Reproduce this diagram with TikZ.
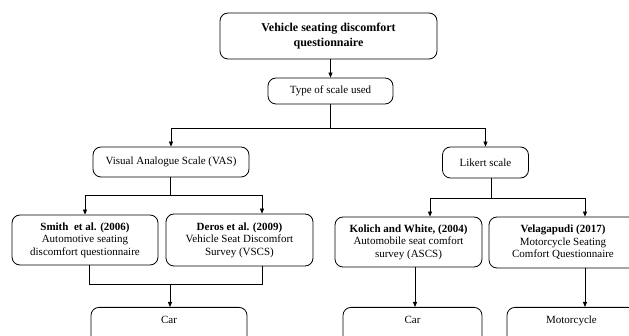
\documentclass[tikz,border=0pt]{standalone}
\usepackage{fontspec}
\setmainfont{Liberation Serif}
\usetikzlibrary{arrows.meta,calc}
\begin{document}
\begin{tikzpicture}[x=1pt,y=-1pt,
  box/.style={draw, rounded corners=8pt, line width=0.8pt, align=center,
    font=\fontsize{11}{12.5}\selectfont, inner sep=0pt},
  botbox/.style={box, anchor=north, text height=9pt, text depth=40pt, inner ysep=7pt},
  conn/.style={line width=0.8pt},
  arr/.style={conn, -{Triangle[length=5pt,width=4pt]}}]
\useasboundingbox (0,0) rectangle (629,336);
\clip (0,0) rectangle (629,336);
% nodes
\node[box, minimum width=217pt, minimum height=46pt,
  font=\bfseries\fontsize{12}{15}\selectfont] (top) at (328.5,36)
  {Vehicle seating discomfort\\questionnaire};
\node[box, minimum width=125pt, minimum height=26pt] (type) at (330.5,91) {Type of scale used};
\node[box, minimum width=156pt, minimum height=30pt] (vas) at (171,162) {Visual Analogue Scale (VAS)};
\node[box, minimum width=86pt, minimum height=31pt] (likert) at (485.5,162.5) {Likert scale};
\node[box, minimum width=146pt, minimum height=50pt] (smith) at (85,240)
  {\textbf{Smith\ \ et al. (2006)}\\Automotive seating\\discomfort questionnaire};
\node[box, minimum width=147pt, minimum height=52pt] (deros) at (239.5,240)
  {\textbf{Deros et al. (2009)}\\Vehicle Seat Discomfort\\Survey (VSCS)};
\node[box, minimum width=147pt, minimum height=50pt] (kolich) at (408.5,242)
  {\textbf{Kolich and White, (2004)}\\Automobile seat comfort\\survey (ASCS)};
\node[box, minimum width=148pt, minimum height=51pt] (vela) at (563,242.5)
  {\textbf{Velagapudi (2017)}\\Motorcycle Seating\\Comfort Questionnaire};
\node[botbox, minimum width=156pt] (car1) at (169,307) {Car};
\node[botbox, minimum width=139pt] (car2) at (412.5,307) {Car};
\node[botbox, minimum width=129pt] (moto) at (571.5,307) {Motorcycle};
% helper coordinates
\coordinate (s1) at (330.5,128);
\coordinate (s2) at (170,195);
\coordinate (dA) at ($(deros.north)+(22.5,0)$);
\coordinate (sB) at ($(smith.south)+(4.5,0)$);
\coordinate (dB) at ($(deros.south)+(22.5,0)$);
\coordinate (j1) at (170,284);
\coordinate (lB) at ($(likert.south)+(5.5,0)$);
\coordinate (s3) at (491,198);
\coordinate (kA) at ($(kolich.north)+(21.5,0)$);
\coordinate (vA) at ($(vela.north)+(22,0)$);
\coordinate (kB) at ($(kolich.south)+(6.5,0)$);
\coordinate (vB) at ($(vela.south)+(22,0)$);
% connectors
\draw[arr] (top.south -| type.north) -- (type.north);
\draw[conn] (type.south) -- (s1);
\draw[arr] (s1) -| (vas.north);
\draw[arr] (s1) -| (likert.north);
\draw[conn] (vas.south -| s2) -- (s2);
\draw[arr] (s2) -| (smith.north);
\draw[arr] (s2) -| (dA);
\draw[conn] (sB) |- (j1);
\draw[conn] (dB) |- (j1);
\draw[arr] (j1) -- (car1.north -| j1);
\draw[conn] (lB) -- (s3);
\draw[arr] (s3) -| (kA);
\draw[arr] (s3) -| (vA);
\draw[arr] (kB) -- (car2.north -| kB);
\draw[arr] (vB) -- (moto.north -| vB);
\end{tikzpicture}
\end{document}
